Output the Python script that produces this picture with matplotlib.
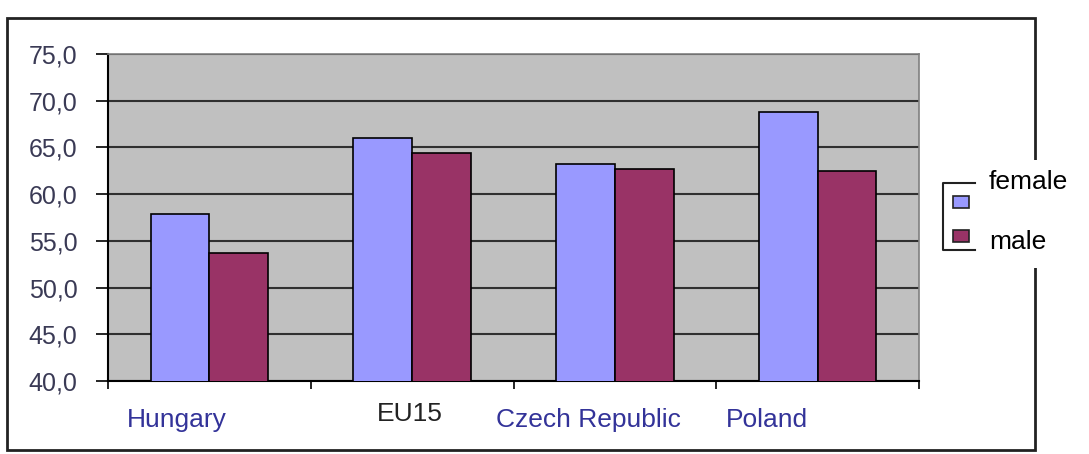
import matplotlib.pyplot as plt
import numpy as np
from matplotlib.patches import Rectangle
from matplotlib.lines import Line2D

plt.rcParams['font.family'] = ['Liberation Sans', 'DejaVu Sans']

countries = ["Hungary", "EU15", "Czech Republic", "Poland"]
female = [57.9, 66.0, 63.2, 68.8]
male = [53.7, 64.4, 62.7, 62.5]
series_names = ["female", "male"]
series_colors = ["#9999FF", "#993366"]

# the category labels sit at odd spots in the original, not under the groups
label_x = [-0.16, 0.99, 1.87, 2.75]
label_y = [-0.12, -0.10, -0.12, -0.12]
label_colors = ["#333399", "#222222", "#333399", "#333399"]

fig = plt.figure(figsize=(10.89, 4.54), dpi=100)
ax = fig.add_axes([108 / 1089, 73 / 454, 811 / 1089, 327 / 454])

x = np.arange(len(countries))
width = 0.29
ax.bar(x - width / 2, female, width, color=series_colors[0], edgecolor="black",
       linewidth=1.2, zorder=3)
ax.bar(x + width / 2, male, width, color=series_colors[1], edgecolor="black",
       linewidth=1.2, zorder=3)

ax.set_facecolor("#C0C0C0")
ax.set_xlim(-0.5, 3.5)
ax.set_ylim(40, 75)
yt = np.arange(40, 76, 5)
ax.set_yticks(yt, [f"{v:.1f}".replace(".", ",") for v in yt])
ax.tick_params(axis="y", length=9, width=1.2, color="black", labelsize=18,
               labelcolor="#3a3a55", pad=13)
ax.yaxis.grid(True, color="#303030", linewidth=1.5, zorder=1)
ax.set_xticks(np.arange(-0.5, 3.6, 1.0), [])
ax.tick_params(axis="x", length=6, width=1.2, color="black", direction="out")

for side in ["left", "bottom"]:
    ax.spines[side].set_color("black")
    ax.spines[side].set_linewidth(1.5)
for side in ["top", "right"]:
    ax.spines[side].set_color("#808080")
    ax.spines[side].set_linewidth(1.2)

trans = ax.get_xaxis_transform()
for name, lx, ly, c in zip(countries, label_x, label_y, label_colors):
    ax.text(lx, ly, name, transform=trans, ha="center", va="center",
            fontsize=19, color=c, clip_on=False)

# outer chart border
W, H = 1089, 454
fig.patches.append(Rectangle((7 / W, 4 / H), 1028 / W, 432 / H, fill=False,
                             edgecolor="#222222", linewidth=2,
                             transform=fig.transFigure, zorder=0))
# legend area covers the border
fig.patches.append(Rectangle((980 / W, (H - 268) / H), 100 / W, 108 / H,
                             facecolor="white", edgecolor="none",
                             transform=fig.transFigure, zorder=1))
fig.lines.append(Line2D([975 / W, 943 / W, 943 / W, 975 / W],
                        [(H - 183) / H, (H - 183) / H, (H - 250) / H, (H - 250) / H],
                        color="#222222", linewidth=1.5,
                        transform=fig.transFigure, zorder=2))
for i, (name, c) in enumerate(zip(series_names, series_colors)):
    sy = 202 + i * 34
    fig.patches.append(Rectangle((953 / W, (H - sy - 6) / H), 16 / W, 12 / H,
                                 facecolor=c, edgecolor="#222222", linewidth=1.2,
                                 transform=fig.transFigure, zorder=2))
    ty = 182 + i * 60
    fig.text(989 / W, (H - ty) / H, name, fontsize=19, color="black",
             ha="left", va="center", zorder=3)

plt.savefig("out.png", dpi=100)
